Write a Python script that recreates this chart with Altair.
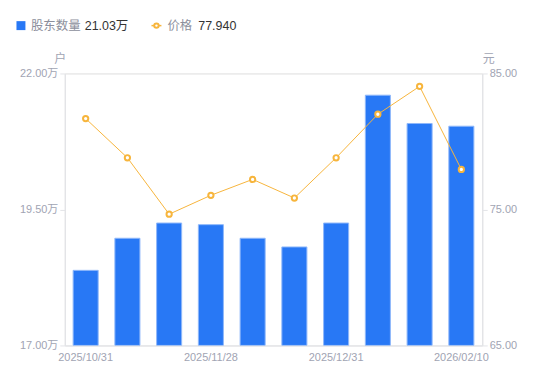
import altair as alt
import pandas as pd

dates = ["2025/10/31", "2025/11/10", "2025/11/20", "2025/11/28", "2025/12/10",
         "2025/12/19", "2025/12/31", "2026/01/09", "2026/01/20", "2026/02/10"]
holders = [18.38, 18.97, 19.25, 19.22, 18.97, 18.81, 19.25, 21.60, 21.08, 21.03]  # 万户
price = [81.68, 78.80, 74.65, 76.04, 77.21, 75.84, 78.80, 82.00, 84.05, 77.94]
shown_labels = ["2025/10/31", "2025/11/28", "2025/12/31", "2026/02/10"]

FONT = "Liberation Sans, Noto Sans CJK SC, sans-serif"
GRAY = "#a1a4b3"
LEG_GRAY = "#8c8f9c"
AXIS_LINE = "#e3e4e8"
BLUE = "#2878f5"
ORANGE = "#f7b53c"

df = pd.DataFrame({"date": dates, "holders": holders, "price": price})

label_expr = "indexof(" + str(shown_labels).replace('"', "'") + ", datum.value) >= 0 ? datum.value : ''"

x_enc = alt.X(
    "date:N", sort=None,
    scale=alt.Scale(paddingInner=0.4, paddingOuter=0.2),
    axis=alt.Axis(title=None, labelAngle=0, ticks=False, labelExpr=label_expr,
                  labelOverlap=False, domainColor=AXIS_LINE, labelColor=GRAY,
                  labelFontSize=11, labelPadding=6, labelFont=FONT),
)

bars = alt.Chart(df).mark_bar(color=BLUE, stroke="#8fb8fa", strokeWidth=1, clip=True).encode(
    x=x_enc,
    y=alt.Y("holders:Q",
            scale=alt.Scale(domain=[17, 22], zero=False, nice=False),
            axis=alt.Axis(values=[17, 19.5, 22], labelExpr="format(datum.value, '.2f') + '万'",
                          grid=False, domainColor=AXIS_LINE, tickColor=AXIS_LINE, tickSize=5,
                          labelColor=GRAY, labelFontSize=11, labelFont=FONT, labelPadding=2,
                          title="户", titleAngle=0, titleX=-5, titleY=-11,
                          titleAlign="center", titleBaseline="alphabetic",
                          titleColor=GRAY, titleFontWeight="normal", titleFontSize=12,
                          titleFont=FONT)),
    y2=alt.datum(17),
)

y_right = alt.Y("price:Q",
                scale=alt.Scale(domain=[65, 85], zero=False, nice=False),
                axis=alt.Axis(orient="right", values=[65, 75, 85], format=".2f",
                              grid=False, domainColor=AXIS_LINE, tickColor=AXIS_LINE, tickSize=5,
                              labelColor=GRAY, labelFontSize=11, labelFont=FONT, labelPadding=2,
                              title="元", titleAngle=0, titleX=6, titleY=-11,
                              titleAlign="center", titleBaseline="alphabetic",
                              titleColor=GRAY, titleFontWeight="normal", titleFontSize=12,
                              titleFont=FONT))

line = alt.Chart(df).mark_line(color=ORANGE, strokeWidth=1).encode(x=x_enc, y=y_right)
points = alt.Chart(df).mark_point(filled=True, fill="white", stroke=ORANGE, strokeWidth=2,
                                  size=28, opacity=1).encode(x=x_enc, y=y_right)

# Header legend
leg_sq = alt.Chart(pd.DataFrame({"k": [0]})).mark_square(color=BLUE, size=81, cornerRadius=2,
                                                          opacity=1).encode(
    x=alt.value(-44), y=alt.value(-48))
leg_line = alt.Chart(pd.DataFrame({"k": [0]})).mark_rule(color=ORANGE, strokeWidth=1.5).encode(
    x=alt.value(87), x2=alt.value(97), y=alt.value(-48))
leg_pt = alt.Chart(pd.DataFrame({"k": [0]})).mark_point(filled=True, fill="white", stroke=ORANGE,
                                                          strokeWidth=2, size=20, opacity=1).encode(
    x=alt.value(92), y=alt.value(-48))

legend_texts = pd.DataFrame({
    "t": ["股东数量", f"{holders[-1]:.2f}万", "价格", f"{price[-1]:.3f}"],
    "px": [-34, 20, 103, 134],
    "c": [LEG_GRAY, "#333333", LEG_GRAY, "#333333"],
})
leg_txt = alt.Chart(legend_texts).mark_text(align="left", baseline="middle", fontSize=12.5,
                                            font=FONT).encode(
    text="t:N", x=alt.X("px:Q", scale=None), y=alt.value(-48),
    color=alt.Color("c:N", scale=None))

chart = alt.layer(
    bars, alt.layer(line, points), leg_sq, leg_line, leg_pt, leg_txt
).resolve_scale(y="independent").properties(
    width=419, height=273,
    autosize=alt.AutoSizeParams(type="none"),
    padding={"left": 57, "top": 65, "right": 60, "bottom": 30},
).configure_view(stroke=None).configure(background="white")

chart.save("out.html", embed_options={"renderer": "svg", "actions": False})
